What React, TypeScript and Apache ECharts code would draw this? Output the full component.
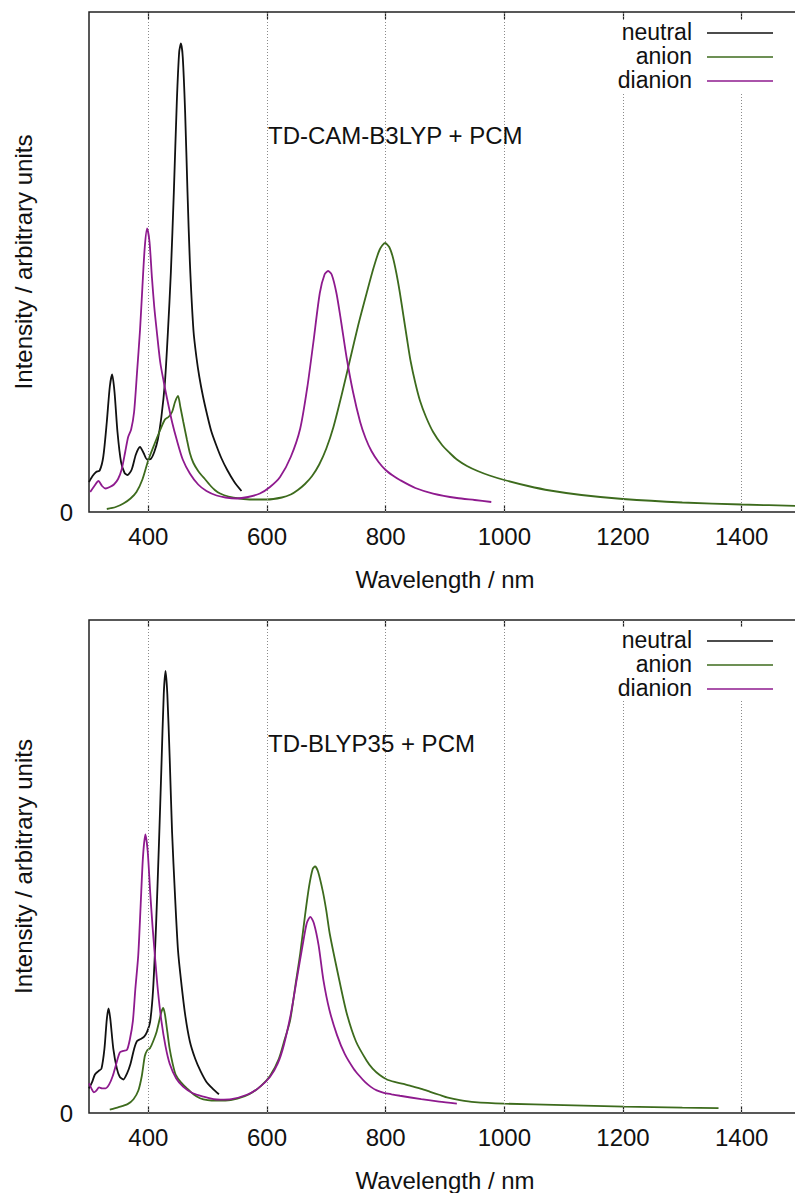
import React, { useEffect, useRef } from "react";
import * as echarts from "echarts";

type Pt = [number, number];

const seriesNames = ["neutral", "anion", "dianion"];
const seriesColors = ["#111111", "#3d6b1d", "#8e1a8e"];
const panelTitles = ["TD-CAM-B3LYP + PCM", "TD-BLYP35 + PCM"];
const xTicks = [400, 600, 800, 1000, 1200, 1400];
const xMin = 300;
const xMax = 1500;

// Panel 1: TD-CAM-B3LYP + PCM
const camNeutral: Pt[] = [
  [300, 0.06], [306, 0.072], [312, 0.08], [318, 0.083], [324, 0.11], [330, 0.18], [335, 0.25], [339, 0.275],
  [343, 0.24], [348, 0.16], [354, 0.1], [360, 0.078], [365, 0.074], [372, 0.085], [379, 0.115], [386, 0.13],
  [392, 0.118], [398, 0.105], [404, 0.106], [410, 0.12], [416, 0.145], [422, 0.19], [428, 0.26], [433, 0.36],
  [438, 0.48], [443, 0.64], [448, 0.82], [452, 0.92], [455, 0.937], [458, 0.91], [462, 0.8], [466, 0.64],
  [470, 0.5], [476, 0.364], [481, 0.31], [486, 0.27], [492, 0.232], [499, 0.195], [506, 0.162], [514, 0.135],
  [523, 0.108], [533, 0.084], [545, 0.06], [557, 0.042],
];
const camAnion: Pt[] = [
  [330, 0.006], [345, 0.01], [358, 0.017], [370, 0.027], [380, 0.04], [390, 0.065], [400, 0.104], [410, 0.135],
  [420, 0.164], [428, 0.185], [434, 0.19], [440, 0.2], [445, 0.22], [450, 0.232], [454, 0.21], [459, 0.18],
  [465, 0.145], [470, 0.118], [476, 0.098], [484, 0.082], [490, 0.073], [496, 0.065], [503, 0.055], [512, 0.044],
  [521, 0.037], [535, 0.031], [554, 0.027], [575, 0.025], [600, 0.025], [625, 0.029], [640, 0.035], [652, 0.044],
  [664, 0.056], [676, 0.072], [688, 0.095], [700, 0.127], [712, 0.17], [726, 0.235], [740, 0.305], [754, 0.375],
  [768, 0.438], [780, 0.49], [790, 0.525], [799, 0.538], [806, 0.53], [812, 0.51], [818, 0.478], [824, 0.438],
  [830, 0.392], [836, 0.346], [842, 0.302], [850, 0.258], [858, 0.222], [868, 0.19], [880, 0.16], [895, 0.134],
  [908, 0.118], [920, 0.105], [937, 0.092], [955, 0.082], [975, 0.073], [1000, 0.064], [1040, 0.052],
  [1077, 0.043], [1130, 0.034], [1200, 0.026], [1300, 0.019], [1400, 0.015], [1500, 0.012],
];
const camDianion: Pt[] = [
  [302, 0.04], [309, 0.052], [316, 0.062], [322, 0.052], [328, 0.047], [335, 0.05], [342, 0.055], [349, 0.066],
  [355, 0.085], [361, 0.12], [366, 0.15], [371, 0.165], [376, 0.2], [381, 0.28], [386, 0.364], [390, 0.45],
  [394, 0.53], [398, 0.567], [402, 0.54], [406, 0.47], [410, 0.41], [414, 0.364], [420, 0.3], [426, 0.26],
  [431, 0.23], [440, 0.18], [448, 0.144], [458, 0.105], [470, 0.077], [484, 0.055], [498, 0.042], [515, 0.033],
  [530, 0.029], [549, 0.027], [568, 0.03], [588, 0.037], [605, 0.05], [622, 0.07], [640, 0.11], [656, 0.167],
  [668, 0.25], [678, 0.338], [689, 0.438], [697, 0.475], [703, 0.482], [709, 0.475], [717, 0.438], [725, 0.38],
  [734, 0.31], [745, 0.24], [757, 0.18], [766, 0.148], [776, 0.122], [788, 0.1], [800, 0.084], [812, 0.073],
  [824, 0.064], [850, 0.048], [880, 0.037], [920, 0.028], [950, 0.024], [978, 0.02],
];

// Panel 2: TD-BLYP35 + PCM
const blypNeutral: Pt[] = [
  [300, 0.05], [305, 0.062], [310, 0.078], [316, 0.085], [321, 0.09], [326, 0.13], [330, 0.19], [333, 0.212],
  [336, 0.19], [341, 0.13], [347, 0.09], [352, 0.073], [358, 0.068], [364, 0.08], [370, 0.1], [376, 0.13],
  [381, 0.146], [387, 0.15], [393, 0.155], [398, 0.165], [403, 0.185], [408, 0.25], [413, 0.38], [418, 0.55],
  [422, 0.7], [426, 0.85], [429, 0.897], [432, 0.85], [436, 0.72], [440, 0.57], [445, 0.44], [450, 0.33],
  [455, 0.27], [462, 0.2], [470, 0.145], [479, 0.11], [488, 0.085], [498, 0.063], [508, 0.05], [519, 0.038],
];
const blypAnion: Pt[] = [
  [335, 0.007], [350, 0.012], [365, 0.018], [375, 0.028], [383, 0.045], [389, 0.075], [394, 0.115], [398, 0.127],
  [403, 0.132], [408, 0.145], [414, 0.165], [419, 0.19], [422, 0.205], [425, 0.213], [428, 0.2], [432, 0.165],
  [436, 0.13], [441, 0.1], [446, 0.078], [455, 0.062], [465, 0.05], [476, 0.038], [487, 0.03], [500, 0.026],
  [515, 0.025], [530, 0.025], [550, 0.029], [570, 0.038], [590, 0.055], [605, 0.075], [620, 0.11], [630, 0.15],
  [639, 0.188], [648, 0.26], [656, 0.324], [664, 0.4], [671, 0.46], [677, 0.495], [681, 0.5], [686, 0.49],
  [694, 0.45], [700, 0.41], [706, 0.362], [720, 0.28], [734, 0.204], [750, 0.145], [768, 0.106], [778, 0.09],
  [790, 0.077], [802, 0.068], [815, 0.063], [830, 0.059], [845, 0.054], [860, 0.049], [875, 0.043], [890, 0.037],
  [905, 0.031], [925, 0.026], [950, 0.022], [1000, 0.019], [1100, 0.016], [1202, 0.013], [1300, 0.011], [1361, 0.01],
];
const blypDianion: Pt[] = [
  [300, 0.06], [304, 0.05], [308, 0.042], [312, 0.045], [317, 0.052], [322, 0.05], [328, 0.05], [334, 0.058],
  [340, 0.075], [346, 0.1], [352, 0.123], [358, 0.126], [364, 0.128], [369, 0.15], [374, 0.187], [378, 0.25],
  [383, 0.32], [387, 0.42], [391, 0.52], [395, 0.565], [399, 0.53], [403, 0.45], [407, 0.38], [411, 0.32],
  [416, 0.25], [422, 0.187], [429, 0.135], [436, 0.1], [447, 0.07], [459, 0.053], [475, 0.04], [493, 0.033],
  [510, 0.028], [521, 0.027], [540, 0.028], [566, 0.037], [585, 0.05], [605, 0.073], [618, 0.1], [628, 0.136],
  [640, 0.2], [650, 0.27], [660, 0.34], [667, 0.385], [673, 0.398], [679, 0.385], [687, 0.34], [695, 0.27],
  [705, 0.21], [718, 0.158], [731, 0.12], [746, 0.09], [756, 0.075], [765, 0.063], [775, 0.053], [785, 0.046],
  [797, 0.041], [810, 0.038], [824, 0.035], [860, 0.028], [890, 0.023], [920, 0.019],
];

const panels: Pt[][][] = [
  [camNeutral, camAnion, camDianion],
  [blypNeutral, blypAnion, blypDianion],
];

const FONT = '"Liberation Sans", Arial, Helvetica, sans-serif';
const FS = 24;
const LEGEND_FS = 23;
const TEXT = "#111111";

export default function App() {
  const ref = useRef<HTMLDivElement>(null);

  useEffect(() => {
    if (!ref.current) return;
    const chart = echarts.init(ref.current, undefined, { renderer: "svg" });

    const gridTops = [12, 620];
    const gridLeft = 89;
    const gridW = 712;
    const gridH = 500;

    const grids = gridTops.map((t) => ({
      left: gridLeft,
      top: t,
      width: gridW,
      height: gridH,
      show: true,
      borderColor: "#222",
      borderWidth: 1.5,
      backgroundColor: "transparent",
    }));

    const xAxes: any[] = [];
    const yAxes: any[] = [];
    gridTops.forEach((_, gi) => {
      xAxes.push({
        gridIndex: gi,
        type: "value",
        min: xMin,
        max: xMax,
        position: "bottom",
        axisLine: { show: false },
        axisTick: { show: true, inside: true, length: 7, customValues: xTicks, lineStyle: { color: "#222", width: 1.2 } },
        axisLabel: {
          customValues: xTicks,
          formatter: (v: number) => String(v),
          fontSize: FS,
          fontFamily: FONT,
          color: TEXT,
          margin: 12,
        },
        splitLine: { show: false },
        name: "Wavelength / nm",
        nameLocation: "middle",
        nameGap: 55,
        nameTextStyle: { fontSize: FS, fontFamily: FONT, color: TEXT },
      });
      xAxes.push({
        gridIndex: gi,
        type: "value",
        min: xMin,
        max: xMax,
        position: "top",
        axisLine: { show: false },
        axisTick: { show: true, inside: true, length: 7, customValues: xTicks, lineStyle: { color: "#222", width: 1.2 } },
        axisLabel: { show: false },
        splitLine: { show: false },
      });
      yAxes.push({
        gridIndex: gi,
        type: "value",
        min: 0,
        max: 1,
        interval: 1,
        axisLine: { show: false },
        axisTick: { show: false },
        splitLine: { show: false },
        axisLabel: {
          formatter: (v: number) => (v === 0 ? "0" : ""),
          fontSize: FS,
          fontFamily: FONT,
          color: TEXT,
          margin: 16,
        },
        name: "Intensity / arbitrary units",
        nameLocation: "middle",
        nameGap: 54,
        nameRotate: 90,
        nameTextStyle: { fontSize: FS, fontFamily: FONT, color: TEXT },
      });
    });

    const series: any[] = [];
    panels.forEach((curves, gi) => {
      series.push({
        type: "line",
        name: "grid" + gi,
        xAxisIndex: gi * 2,
        yAxisIndex: gi,
        data: [],
        z: 1,
        silent: true,
        markLine: {
          silent: true,
          symbol: ["none", "none"],
          label: { show: false },
          lineStyle: { color: "#8a8a8a", type: [1, 2], width: 1 },
          data: xTicks.map((v) => ({ xAxis: v })),
        },
      });
      curves.forEach((d, si) => {
        series.push({
          type: "line",
          name: seriesNames[si],
          xAxisIndex: gi * 2,
          yAxisIndex: gi,
          data: d,
          showSymbol: false,
          smooth: 0.25,
          z: 3 + si,
          lineStyle: { color: seriesColors[si], width: 1.8 },
          itemStyle: { color: seriesColors[si] },
        });
      });
    });

    const graphics: any[] = [];
    gridTops.forEach((t, gi) => {
      graphics.push({
        type: "rect",
        shape: { x: 608, y: t + 9, width: 185, height: 72 },
        style: { fill: "#ffffff" },
        z: 100,
        silent: true,
      });
      seriesNames.forEach((n, si) => {
        const y = t + 20 + si * 24;
        graphics.push({
          type: "text",
          x: 692,
          y,
          z: 101,
          style: { text: n, font: `${LEGEND_FS}px ${FONT}`, fill: TEXT, align: "right", verticalAlign: "middle" },
        });
        graphics.push({
          type: "line",
          z: 101,
          shape: { x1: 707, y1: y + 1, x2: 773, y2: y + 1 },
          style: { stroke: seriesColors[si], lineWidth: 1.6 },
        });
      });
      graphics.push({
        type: "text",
        x: 268,
        y: t + 123,
        z: 101,
        style: { text: panelTitles[gi], font: `${FS}px ${FONT}`, fill: TEXT, align: "left", verticalAlign: "middle" },
      });
    });

    chart.setOption({
      animation: false,
      backgroundColor: "#ffffff",
      grid: grids,
      xAxis: xAxes,
      yAxis: yAxes,
      series,
      graphic: graphics,
    });

    return () => chart.dispose();
  }, []);

  return (
    <div style={{ position: "fixed", left: 0, top: 0, width: 795, height: 1193, overflow: "hidden", background: "#fff" }}>
      <div ref={ref} style={{ width: 810, height: 1193 }} />
    </div>
  );
}
